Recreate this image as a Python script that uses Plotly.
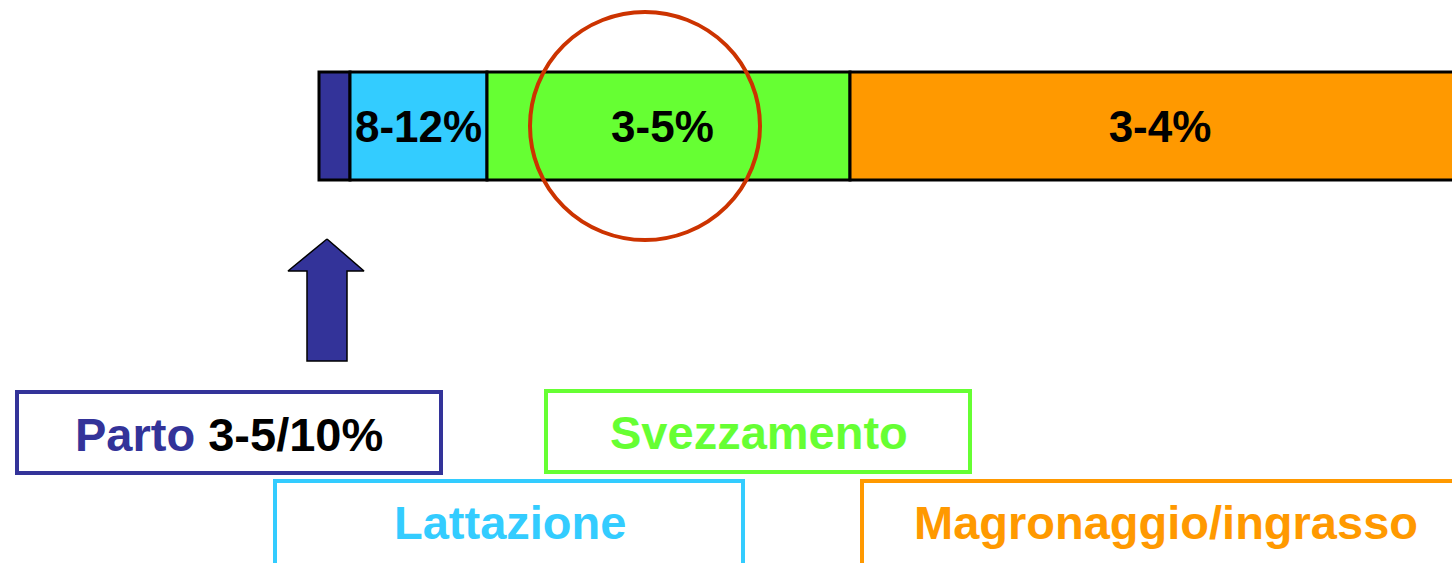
import plotly.graph_objects as go

# Stages of the piglet's life and their (diagram) extents along the timeline
stages = ["Parto", "Lattazione", "Svezzamento", "Magronaggio/ingrasso"]
seg_start = [319, 350, 487, 850]
seg_length = [31, 137, 363, 620]
seg_labels = ["", "8-12%", "3-5%\u00a0", "3-4%"]
seg_colors = ["#333399", "#33CCFF", "#66FF33", "#FF9900"]

FONT = "Liberation Sans, Arial, sans-serif"

fig = go.Figure()

for name, s, l, lab, c in zip(stages, seg_start, seg_length, seg_labels, seg_colors):
    fig.add_trace(go.Bar(
        orientation="h", y=[126], x=[l], base=[s], width=108,
        marker=dict(color=c, line=dict(color="black", width=3)),
        text=[f"<b>{lab}</b>"], textposition="inside", insidetextanchor="middle",
        textfont=dict(family=FONT, size=44, color="black"),
        name=name, showlegend=False, hoverinfo="skip", cliponaxis=True,
    ))

# Arrow pointing to the birth segment
arrow_x = [327, 364, 347, 347, 307, 307, 288, 327]
arrow_y = [239, 271, 271, 361, 361, 271, 271, 239]
fig.add_trace(go.Scatter(
    x=arrow_x, y=arrow_y, mode="lines", fill="toself",
    fillcolor="#333399", line=dict(color="black", width=1.5),
    showlegend=False, hoverinfo="skip",
))

shapes = [
    # circle highlighting weaning
    dict(type="circle", xref="x", yref="y", x0=530, x1=760, y0=12, y1=240,
         line=dict(color="#CC3300", width=4)),
    # label boxes
    dict(type="rect", xref="x", yref="y", x0=17, x1=441, y0=392, y1=473,
         line=dict(color="#333399", width=4), fillcolor="rgba(0,0,0,0)"),
    dict(type="rect", xref="x", yref="y", x0=546, x1=970, y0=391, y1=472,
         line=dict(color="#66FF33", width=4), fillcolor="rgba(0,0,0,0)"),
    dict(type="rect", xref="x", yref="y", x0=275, x1=743, y0=481, y1=575,
         line=dict(color="#33CCFF", width=4), fillcolor="rgba(0,0,0,0)"),
    dict(type="rect", xref="x", yref="y", x0=862, x1=1470, y0=481, y1=575,
         line=dict(color="#FF9900", width=4), fillcolor="rgba(0,0,0,0)"),
]

annotations = [
    dict(x=229, y=434, xref="x", yref="y", showarrow=False,
         text="<b><span style='color:#333399'>Parto</span> 3-5/10%</b>",
         font=dict(family=FONT, size=47, color="black")),
    dict(x=759, y=432, xref="x", yref="y", showarrow=False,
         text="<b>Svezzamento</b>", font=dict(family=FONT, size=47, color="#66FF33")),
    dict(x=510, y=522, xref="x", yref="y", showarrow=False,
         text="<b>Lattazione</b>", font=dict(family=FONT, size=47, color="#33CCFF")),
    dict(x=1166, y=522, xref="x", yref="y", showarrow=False,
         text="<b>Magronaggio/ingrasso</b>", font=dict(family=FONT, size=47, color="#FF9900")),
]

fig.update_layout(
    width=1452, height=563,
    margin=dict(l=0, r=0, t=0, b=0),
    paper_bgcolor="white", plot_bgcolor="white",
    barmode="overlay",
    xaxis=dict(range=[0, 1452], visible=False, fixedrange=True),
    yaxis=dict(range=[563, 0], visible=False, fixedrange=True),
    shapes=shapes, annotations=annotations,
    uniformtext=dict(mode=False),
)

fig.write_html("out.html", config={"displayModeBar": False},
               post_script="document.body.style.margin='0';document.body.style.overflow='hidden';")
